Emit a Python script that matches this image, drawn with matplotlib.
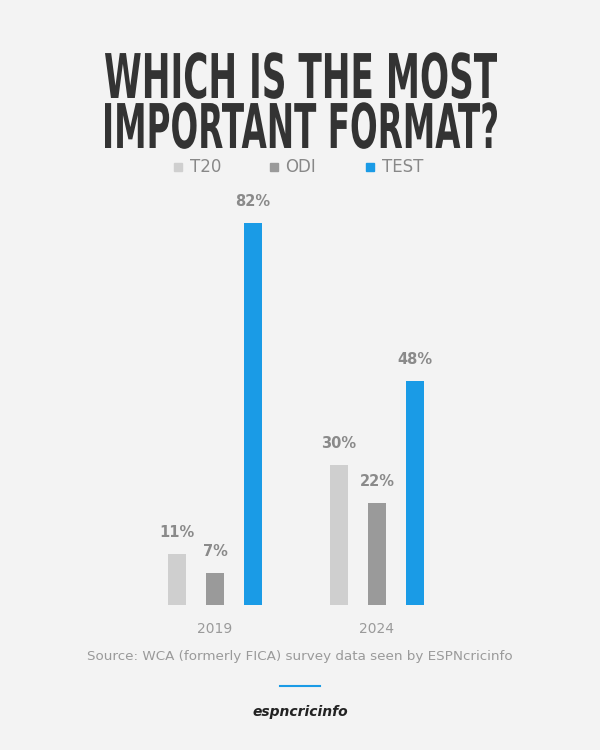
import numpy as np
import matplotlib.pyplot as plt
from matplotlib.textpath import TextPath
from matplotlib.font_manager import FontProperties
from matplotlib.patches import PathPatch
from matplotlib.transforms import Affine2D, IdentityTransform

years = ['2019', '2024']
formats = ['T20', 'ODI', 'TEST']
t20 = [11, 30]
odi = [7, 22]
test = [82, 48]
colors = ['#cfcfcf', '#9a9a9a', '#1a9be6']

bg = '#f3f3f3'
fig = plt.figure(figsize=(6, 7.5), dpi=100, facecolor=bg)

# condensed title: squeeze a bold text path horizontally
fp = FontProperties(family='DejaVu Sans', weight='bold')
for line, base in [('WHICH IS THE MOST', 652), ('IMPORTANT FORMAT?', 602)]:
    tp = TextPath((0, 0), line, size=100, prop=fp)
    ext = tp.get_extents()
    sx = 392 / ext.width
    sy = 45 / 73.0
    tr = Affine2D().translate(-ext.x0, 0).scale(sx, sy).translate(105, base)
    fig.add_artist(PathPatch(tr.transform_path(tp), color='#333333', lw=0,
                             transform=IdentityTransform()))

ax = fig.add_axes([0.25, 0.193, 0.5, 0.51])
ax.set_facecolor(bg)
x = np.arange(len(years))
offsets = [-0.235, 0, 0.235]
for vals, off, c in zip([t20, odi, test], offsets, colors):
    ax.bar(x + off, vals, width=0.11, color=c)
    for xi, v in zip(x + off, vals):
        ax.text(xi, v + 3, f'{v}%', ha='center', va='bottom', fontsize=10.5,
                fontweight='bold', color='#8a8a8a')
ax.set_xlim(-0.401, 1.451)
ax.set_ylim(0, 82)
ax.set_xticks(x)
ax.set_xticklabels(years, fontsize=10, color='#9a9a9a')
ax.tick_params(length=0, pad=12)
ax.set_yticks([])
for s in ax.spines.values():
    s.set_visible(False)

# legend
lx = [0.29, 0.45, 0.61]
for xx, f, c in zip(lx, formats, colors):
    fig.patches.append(plt.Rectangle((xx, 0.772), 0.014, 0.011, color=c,
                                     transform=fig.transFigure))
    fig.text(xx + 0.026, 0.778, f, fontsize=12, color='#888888', va='center')

fig.text(0.5, 0.125, 'Source: WCA (formerly FICA) survey data seen by ESPNcricinfo',
         ha='center', va='center', fontsize=9.7, color='#9a9a9a')
fig.add_artist(plt.Line2D([0.467, 0.533], [0.085, 0.085], color='#1a9be6', lw=1.5))
fig.text(0.5, 0.051, 'espncricinfo', ha='center', va='center', fontsize=10,
         fontweight='bold', style='italic', color='#222222')

fig.savefig('out.png', dpi=100, facecolor=bg)
